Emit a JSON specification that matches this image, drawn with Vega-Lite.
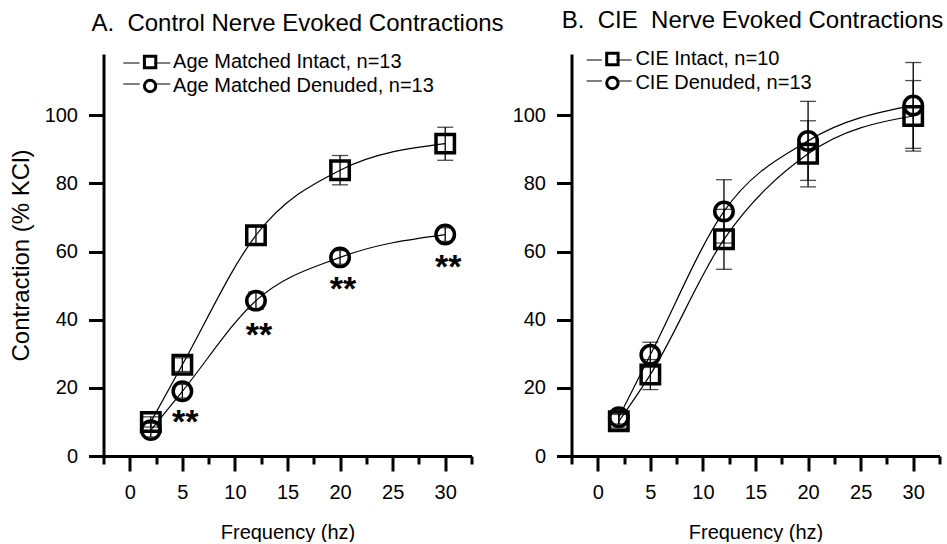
{
  "$schema": "https://vega.github.io/schema/vega-lite/v6.json",
  "background": "white",
  "padding": {"left": 8.5, "top": 9, "right": 0, "bottom": 0},
  "spacing": 100,
  "bounds": "flush",
  "config": {
    "font": "Liberation Sans",
    "view": {"stroke": null},
    "axis": {
      "grid": false,
      "domainColor": "black",
      "domainWidth": 3,
      "tickColor": "black",
      "tickWidth": 3,
      "tickSize": 15,
      "labelFont": "Liberation Sans",
      "labelFontSize": 20,
      "labelColor": "black",
      "labelPadding": 11,
      "labelOverlap": false,
      "labelFlush": false,
      "labelBound": false,
      "titleFont": "Liberation Sans",
      "titleFontSize": 20,
      "titleFontWeight": "normal",
      "titleColor": "black"
    },
    "title": {"fontSize": 24, "fontWeight": "normal", "color": "black", "font": "Liberation Sans", "baseline": "alphabetic", "offset": 16, "frame": "group", "anchor": "middle"},
    "legend": {"labelFont": "Liberation Sans", "labelFontSize": 20, "labelColor": "black", "labelLimit": 0}
  },
  "datasets": {
    "ptsA": [
      {"f": 2, "v": 10.0, "lo": 8.5, "hi": 11.5, "series": "Age Matched Intact, n=13", "curve": "Intact"},
      {"f": 5, "v": 26.8, "lo": 24.8, "hi": 28.8, "series": "Age Matched Intact, n=13", "curve": "Intact"},
      {"f": 12, "v": 64.8, "lo": 62.3, "hi": 67.3, "series": "Age Matched Intact, n=13", "curve": "Intact"},
      {"f": 20, "v": 83.9, "lo": 79.6, "hi": 88.2, "series": "Age Matched Intact, n=13", "curve": "Intact"},
      {"f": 30, "v": 91.7, "lo": 86.8, "hi": 96.5, "series": "Age Matched Intact, n=13", "curve": "Intact"},
      {"f": 2, "v": 7.6, "lo": 5.6, "hi": 9.6, "series": "Age Matched Denuded, n=13", "curve": "Denuded"},
      {"f": 5, "v": 19.0, "lo": 17.0, "hi": 21.0, "series": "Age Matched Denuded, n=13", "curve": "Denuded"},
      {"f": 12, "v": 45.6, "lo": 43.1, "hi": 48.1, "series": "Age Matched Denuded, n=13", "curve": "Denuded"},
      {"f": 20, "v": 58.3, "lo": 56.3, "hi": 60.3, "series": "Age Matched Denuded, n=13", "curve": "Denuded"},
      {"f": 30, "v": 65.0, "lo": 63.0, "hi": 67.0, "series": "Age Matched Denuded, n=13", "curve": "Denuded"}
    ],
    "ptsB": [
      {"f": 2, "v": 10.2, "lo": 8.2, "hi": 12.2, "series": "CIE Intact, n=10", "curve": "Intact"},
      {"f": 5, "v": 23.9, "lo": 19.5, "hi": 28.3, "series": "CIE Intact, n=10", "curve": "Intact"},
      {"f": 12, "v": 63.6, "lo": 54.8, "hi": 72.4, "series": "CIE Intact, n=10", "curve": "Intact"},
      {"f": 20, "v": 88.7, "lo": 79.0, "hi": 98.4, "series": "CIE Intact, n=10", "curve": "Intact"},
      {"f": 30, "v": 99.8, "lo": 89.5, "hi": 110.2, "series": "CIE Intact, n=10", "curve": "Intact"},
      {"f": 2, "v": 11.4, "lo": 9.4, "hi": 13.4, "series": "CIE Denuded, n=13", "curve": "Denuded"},
      {"f": 5, "v": 29.7, "lo": 26.0, "hi": 33.4, "series": "CIE Denuded, n=13", "curve": "Denuded"},
      {"f": 12, "v": 71.8, "lo": 62.5, "hi": 81.1, "series": "CIE Denuded, n=13", "curve": "Denuded"},
      {"f": 20, "v": 92.5, "lo": 80.9, "hi": 104.1, "series": "CIE Denuded, n=13", "curve": "Denuded"},
      {"f": 30, "v": 102.9, "lo": 90.3, "hi": 115.5, "series": "CIE Denuded, n=13", "curve": "Denuded"}
    ],
    "starsA": [
      {"f": 5, "v": 10.7, "t": "**"},
      {"f": 12, "v": 36.2, "t": "**"},
      {"f": 20, "v": 49.6, "t": "**"},
      {"f": 30, "v": 56.2, "t": "**"}
    ]
  },
  "hconcat": [
    {
      "width": 368,
      "height": 402,
      "title": {"text": "A.\u00a0 Control Nerve Evoked Contractions", "dx": 10},
      "resolve": {"axis": {"x": "independent"}},
      "layer": [
        {
          "data": {"name": "ptsA"},
          "mark": {"type": "line", "interpolate": "monotone", "strokeWidth": 1.2},
          "encoding": {
            "x": {"field": "f", "type": "quantitative", "scale": {"domain": [-2.5, 32.5], "nice": false, "zero": false}, "axis": {"orient": "bottom", "title": "Frequency (hz)", "titlePadding": 20, "labelOverlap": false, "values": [0, 5, 10, 15, 20, 25, 30], "format": "d", "tickSize": 15}},
            "y": {"field": "v", "type": "quantitative", "scale": {"domain": [0, 118], "nice": false, "zero": false}, "axis": {"title": "Contraction (% KCl)", "titleFontSize": 24, "titlePadding": 11, "labelOverlap": false, "values": [0, 10, 20, 30, 40, 50, 60, 70, 80, 90, 100, 110], "labelExpr": "datum.value % 20 === 0 ? datum.label : ''", "tickDash": {"condition": {"test": "datum.value % 20 !== 0", "value": [7, 40]}, "value": [20, 0]}}},
            "color": {"field": "curve", "type": "nominal", "scale": {"domain": ["Intact", "Denuded"], "range": ["black", "black"]}, "legend": {"orient": "none", "legendX": 32.3, "legendY": -2, "title": null, "symbolType": "M-2.35,0H-0.72M0.72,0H2.35", "symbolSize": 400, "symbolStrokeWidth": 1.2, "labelExpr": "''", "rowPadding": 0, "padding": 0}}
          }
        },
        {
          "data": {"name": "ptsA"},
          "mark": {"type": "errorbar", "ticks": {"size": 16, "thickness": 1.3, "color": "black"}, "rule": {"strokeWidth": 1.3, "color": "black"}},
          "encoding": {
            "x": {"field": "f", "type": "quantitative", "axis": {"orient": "bottom", "title": null, "labels": false, "domain": false, "grid": false, "values": [-2.5, 2.5, 7.5, 12.5, 17.5, 22.5, 27.5, 32.5], "tickSize": 8}},
            "y": {"field": "lo", "type": "quantitative", "title": "Contraction (% KCl)"},
            "y2": {"field": "hi"}
          }
        },
        {
          "data": {"name": "ptsA"},
          "mark": {"type": "point", "filled": false, "strokeWidth": 3.5, "color": "black", "opacity": 1, "size": 340},
          "encoding": {
            "x": {"field": "f", "type": "quantitative", "axis": null},
            "y": {"field": "v", "type": "quantitative"},
            "shape": {"field": "series", "type": "nominal", "scale": {"domain": ["Age Matched Intact, n=13", "Age Matched Denuded, n=13"], "range": ["square", "circle"]}, "legend": {"orient": "none", "legendX": 36.6, "legendY": -2, "title": null, "symbolSize": 130, "symbolStrokeWidth": 3, "symbolStrokeColor": "black", "labelOffset": 13, "rowPadding": 0, "padding": 0}}
          }
        },
        {
          "data": {"name": "starsA"},
          "mark": {"type": "text", "fontSize": 34, "fontWeight": "bold", "baseline": "alphabetic", "align": "center", "dy": 13, "dx": 3, "color": "black"},
          "encoding": {
            "x": {"field": "f", "type": "quantitative", "axis": null},
            "y": {"field": "v", "type": "quantitative"},
            "text": {"field": "t"}
          }
        }
      ]
    },
    {
      "width": 368,
      "height": 402,
      "title": {"text": "B.\u00a0 CIE\u00a0 Nerve Evoked Contractions", "dx": -3},
      "resolve": {"axis": {"x": "independent"}},
      "layer": [
        {
          "data": {"name": "ptsB"},
          "mark": {"type": "line", "interpolate": "monotone", "strokeWidth": 1.2},
          "encoding": {
            "x": {"field": "f", "type": "quantitative", "scale": {"domain": [-2.5, 32.5], "nice": false, "zero": false}, "axis": {"orient": "bottom", "title": "Frequency (hz)", "titlePadding": 20, "labelOverlap": false, "values": [0, 5, 10, 15, 20, 25, 30], "format": "d", "tickSize": 15}},
            "y": {"field": "v", "type": "quantitative", "scale": {"domain": [0, 118], "nice": false, "zero": false}, "axis": {"title": null, "labelOverlap": false, "values": [0, 10, 20, 30, 40, 50, 60, 70, 80, 90, 100, 110], "labelExpr": "datum.value % 20 === 0 ? datum.label : ''", "tickDash": {"condition": {"test": "datum.value % 20 !== 0", "value": [7, 40]}, "value": [20, 0]}}},
            "color": {"field": "curve", "type": "nominal", "scale": {"domain": ["Intact", "Denuded"], "range": ["black", "black"]}, "legend": {"orient": "none", "legendX": 26.6, "legendY": -5, "title": null, "symbolType": "M-2.25,0H-0.72M0.72,0H2.25", "symbolSize": 400, "symbolStrokeWidth": 1.2, "labelExpr": "''", "rowPadding": 0, "padding": 0}}
          }
        },
        {
          "data": {"name": "ptsB"},
          "mark": {"type": "errorbar", "ticks": {"size": 16, "thickness": 1.3, "color": "black"}, "rule": {"strokeWidth": 1.3, "color": "black"}},
          "encoding": {
            "x": {"field": "f", "type": "quantitative", "axis": {"orient": "bottom", "title": null, "labels": false, "domain": false, "grid": false, "values": [-2.5, 2.5, 7.5, 12.5, 17.5, 22.5, 27.5, 32.5], "tickSize": 8}},
            "y": {"field": "lo", "type": "quantitative", "title": null},
            "y2": {"field": "hi"}
          }
        },
        {
          "data": {"name": "ptsB"},
          "mark": {"type": "point", "filled": false, "strokeWidth": 3.5, "color": "black", "opacity": 1, "size": 340},
          "encoding": {
            "x": {"field": "f", "type": "quantitative", "axis": null},
            "y": {"field": "v", "type": "quantitative"},
            "shape": {"field": "series", "type": "nominal", "scale": {"domain": ["CIE Intact, n=10", "CIE Denuded, n=13"], "range": ["square", "circle"]}, "legend": {"orient": "none", "legendX": 30.9, "legendY": -5, "title": null, "symbolSize": 130, "symbolStrokeWidth": 3, "symbolStrokeColor": "black", "labelOffset": 13, "rowPadding": 0, "padding": 0}}
          }
        }
      ]
    }
  ],
  "resolve": {
    "scale": {"x": "independent", "y": "independent", "color": "independent", "shape": "independent"},
    "legend": {"color": "independent", "shape": "independent"}
  }
}
